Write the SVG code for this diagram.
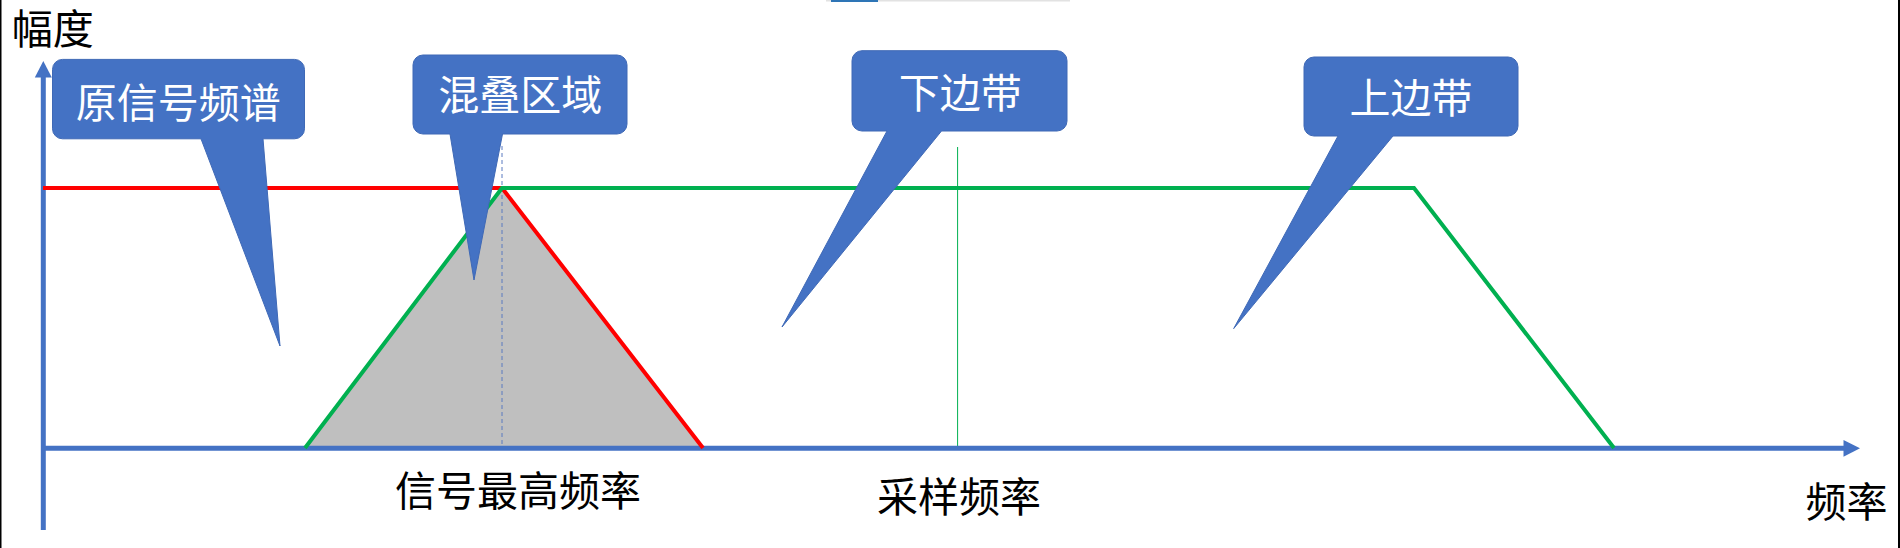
<svg xmlns="http://www.w3.org/2000/svg" width="1900" height="548" viewBox="0 0 1900 548">
<style>
.lbl{font-family:"Noto Sans CJK SC","Noto Sans",sans-serif;font-size:41px;text-anchor:middle;fill:#000}
.cl{fill:#4472C4;stroke:#3F69B6;stroke-width:1}
.ct{font-family:"Noto Sans CJK SC","Noto Sans",sans-serif;font-size:41px;text-anchor:middle;fill:#fff}
.ax{stroke:#4472C4;stroke-width:5;fill:none}
.axh{fill:#4472C4}
</style>
<rect x="0" y="0" width="1900" height="548" fill="#fff"/>
<rect x="0" y="0" width="1.5" height="548" fill="#000"/>
<rect x="1898" y="0" width="2" height="548" fill="#000"/>
<rect x="826" y="0" width="244" height="1.5" fill="#E2E2E2"/>
<rect x="831" y="0" width="47" height="2" fill="#2E75B6"/>
<g id="connectors">
  <polygon points="305,448 502,188 703,448" fill="#BFBFBF"/>
  <line x1="502" y1="146" x2="502" y2="447" stroke="#5B7BC0" stroke-width="1" stroke-dasharray="4,3"/>
  <line x1="957.6" y1="147" x2="957.6" y2="447" stroke="#00B050" stroke-width="1"/>
  <g id="y-axis">
    <line class="ax" x1="43.3" y1="530" x2="43.3" y2="76"/>
    <polygon class="axh" points="43.3,61 51.8,77.5 34.8,77.5"/>
  </g>
  <g id="x-axis">
    <line class="ax" x1="41" y1="448.3" x2="1845" y2="448.3"/>
    <polygon class="axh" points="1860,448.3 1843.5,440 1843.5,456.7"/>
  </g>
  <polyline points="43,188 502,188 703,448" fill="none" stroke="#FF0000" stroke-width="4" stroke-linejoin="miter"/>
  <polyline points="305,448 502,188 1414,188 1614,448" fill="none" stroke="#00B050" stroke-width="4"/>
</g>
<g id="axis-labels">
  <text class="lbl" x="52.7" y="44">幅度</text>
  <text class="lbl" x="518" y="506">信号最高频率</text>
  <text class="lbl" x="959" y="512">采样频率</text>
  <text class="lbl" x="1846.5" y="516.5">频率</text>
</g>
<g id="callout-original">
  <path class="cl" d="M62.5,59.4 H294.5 A10,10 0 0 1 304.5,69.4 V128.8 A10,10 0 0 1 294.5,138.8 H263 L280,346 L201,138.8 H62.5 A10,10 0 0 1 52.5,128.8 V69.4 A10,10 0 0 1 62.5,59.4 Z"/>
  <text class="ct" x="178.3" y="117.8">原信号频谱</text>
</g>
<g id="callout-alias">
  <path class="cl" d="M423,55 H617 A10,10 0 0 1 627,65 V124 A10,10 0 0 1 617,134 H502.5 L474,280 L450,134 H423 A10,10 0 0 1 413,124 V65 A10,10 0 0 1 423,55 Z"/>
  <text class="ct" x="520.3" y="110">混叠区域</text>
</g>
<g id="callout-lower">
  <path class="cl" d="M862,50.7 H1057 A10,10 0 0 1 1067,60.7 V121 A10,10 0 0 1 1057,131 H941.5 L782,327 L887,131 H862 A10,10 0 0 1 852,121 V60.7 A10,10 0 0 1 862,50.7 Z"/>
  <text class="ct" x="960.3" y="108">下边带</text>
</g>
<g id="callout-upper">
  <path class="cl" d="M1314,57 H1508 A10,10 0 0 1 1518,67 V126 A10,10 0 0 1 1508,136 H1393 L1233.7,328.6 L1338,136 H1314 A10,10 0 0 1 1304,126 V67 A10,10 0 0 1 1314,57 Z"/>
  <text class="ct" x="1411" y="112.5">上边带</text>
</g>
</svg>
